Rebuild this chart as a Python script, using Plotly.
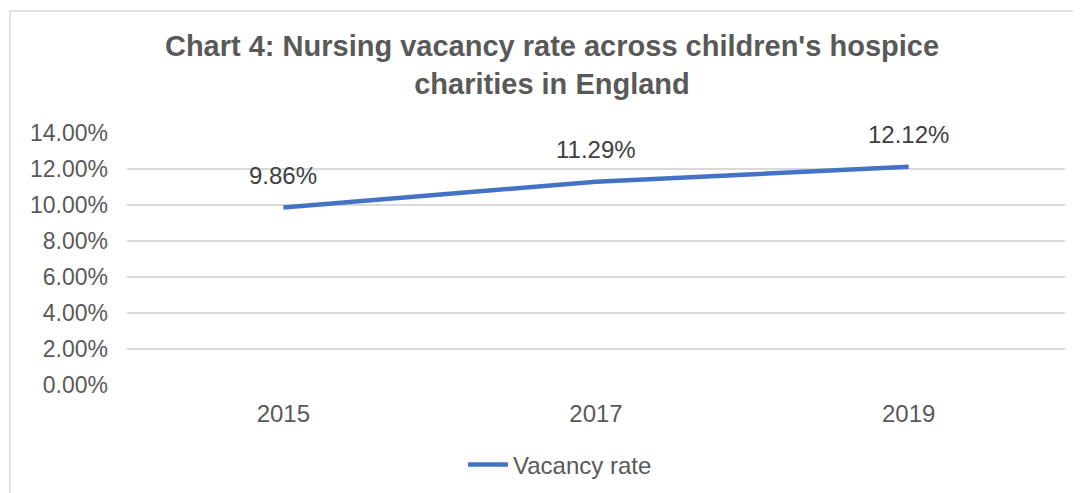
import plotly.graph_objects as go

years = [2015, 2017, 2019]
vacancy_rate = [0.0986, 0.1129, 0.1212]
labels = ["9.86%", "11.29%", "12.12%"]
y_ticks = [0.0, 0.02, 0.04, 0.06, 0.08, 0.10, 0.12, 0.14]
y_ticklabels = ["0.00%", "2.00%", "4.00%", "6.00%", "8.00%", "10.00%", "12.00%", "14.00%"]

# the page body adds an 8px offset; the figure is sized to fit the window
W, H = 1073, 485
ML, MR, MT, MB = 119, 16, 125, 108
PW, PH = W - ML - MR, H - MT - MB
FONT = "Liberation Sans, Arial"

fig = go.Figure()
fig.add_trace(go.Scatter(
    x=years, y=vacancy_rate, mode="lines", name="Vacancy rate",
    line=dict(color="#4472C4", width=4.5),
))

for xv, yv, lab in zip(years, vacancy_rate, labels):
    fig.add_annotation(x=xv, y=yv, text=lab, showarrow=False, yshift=32,
                       font=dict(family=FONT, size=24, color="#404040"))

fig.add_shape(type="rect", xref="paper", yref="paper",
              x0=(2 - ML) / PW, x1=(1200 - ML) / PW,
              y0=(H - MB - 600) / PH, y1=(H - MB - 3) / PH,
              line=dict(color="#D9D9D9", width=1.5), fillcolor="rgba(0,0,0,0)", layer="below")

fig.update_layout(
    width=W, height=H,
    margin=dict(l=ML, r=MR, t=MT, b=MB),
    paper_bgcolor="white", plot_bgcolor="white",
    title=dict(text="<b>Chart 4: Nursing vacancy rate across children's hospice<br>charities in England</b>",
               x=544 / W, xanchor="center", xref="container",
               y=1 - 48 / H, yanchor="middle", yref="container",
               font=dict(family=FONT, size=29, color="#595959")),
    xaxis=dict(range=[2014, 2020], tickvals=years, ticktext=[str(y) for y in years],
               showgrid=False, showline=False, ticks="", zeroline=False,
               ticklabelstandoff=12,
               tickfont=dict(family=FONT, size=24, color="#595959")),
    yaxis=dict(range=[0, 0.14], tickvals=y_ticks, ticktext=y_ticklabels,
               showgrid=True, gridcolor="#D9D9D9", gridwidth=1.5, zeroline=False,
               showline=False, ticks="", ticklabelstandoff=18,
               tickfont=dict(family=FONT, size=23, color="#595959")),
    showlegend=True,
    legend=dict(orientation="h", x=552 / W, xanchor="center", xref="container",
                y=1 - 457 / H, yanchor="middle", yref="container",
                font=dict(family=FONT, size=24, color="#595959"),
                itemwidth=40),
)

fig.write_html("out.html")
